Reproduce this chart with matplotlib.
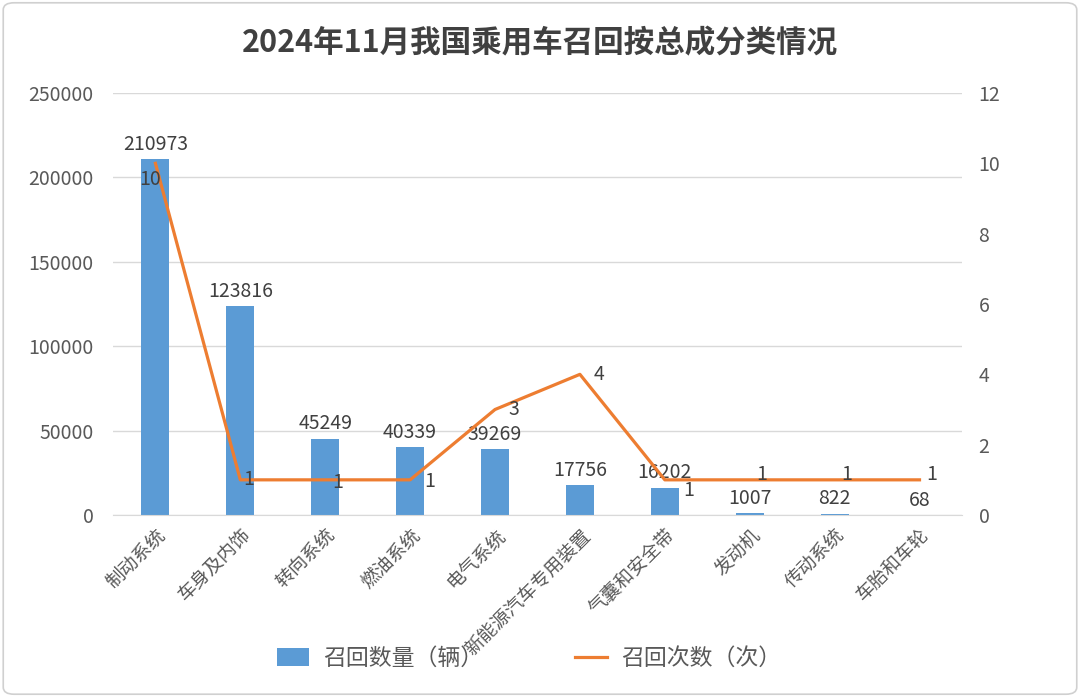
import matplotlib
matplotlib.use('Agg')
import matplotlib.pyplot as plt
from matplotlib.patches import FancyBboxPatch, Patch
from matplotlib.lines import Line2D
import numpy as np

plt.rcParams['font.family'] = ['Noto Sans CJK SC', 'DejaVu Sans']

# data
categories = ['制动系统', '车身及内饰', '转向系统', '燃油系统', '电气系统',
              '新能源汽车专用装置', '气囊和安全带', '发动机', '传动系统', '车胎和车轮']
recall_qty = [210973, 123816, 45249, 40339, 39269, 17756, 16202, 1007, 822, 68]
recall_cnt = [10, 1, 1, 1, 3, 4, 1, 1, 1, 1]
left_ticks = [0, 50000, 100000, 150000, 200000, 250000]
right_ticks = [0, 2, 4, 6, 8, 10, 12]

bar_color = '#5B9BD5'
line_color = '#ED7D31'
text_gray = '#595959'
label_gray = '#404040'

fig = plt.figure(figsize=(10.8, 6.97), dpi=100)
ax = fig.add_axes([0.1046, 0.2611, 0.7861, 0.6055])
ax2 = ax.twinx()

x = np.arange(len(categories))
ax.bar(x, recall_qty, width=0.33, color=bar_color, zorder=2)
ax.set_xlim(-0.5, len(categories) - 0.5)
ax.set_ylim(0, 250000)
ax.set_yticks(left_ticks)
ax.set_yticklabels([str(v) for v in left_ticks])
ax.grid(axis='y', color='#D9D9D9', linewidth=1, zorder=0)
ax.set_axisbelow(True)
for s in ['top', 'left', 'right']:
    ax.spines[s].set_visible(False)
ax.spines['bottom'].set_color('#D9D9D9')
ax.tick_params(axis='y', length=0, labelsize=14, labelcolor=text_gray, pad=14)
ax.tick_params(axis='x', length=0, pad=7)
ax.set_xticks(x)
ax.set_xticklabels(categories, rotation=45, ha='right', va='top',
                   rotation_mode='anchor', fontsize=13.5, color=text_gray)

# bar labels
for xi, v in zip(x, recall_qty):
    ax.annotate(str(v), (xi, v), xytext=(0, 3), textcoords='offset points',
                ha='center', va='bottom', fontsize=14, color=label_gray)

ax2.plot(x, recall_cnt, color=line_color, linewidth=2.3, zorder=3)
ax2.set_ylim(0, 12)
ax2.set_yticks(right_ticks)
for s in ['top', 'left', 'right', 'bottom']:
    ax2.spines[s].set_visible(False)
ax2.tick_params(axis='y', length=0, labelsize=14, labelcolor=text_gray, pad=12)

# line labels
line_offsets = [(-4, -12), (2, 0), (5, -2), (10, -1), (10, 0),
                (10, 0), (13, -8), (5, 4), (5, 4), (5, 4)]
for xi, v, off in zip(x, recall_cnt, line_offsets):
    ax2.annotate(str(v), (xi, v), xytext=off, textcoords='offset points',
                 ha='left' if off[0] > 0 else 'center', va='center',
                 fontsize=14, color=label_gray)

fig.text(0.5, 0.938, '2024年11月我国乘用车召回按总成分类情况', ha='center', va='center',
         fontsize=22, fontweight='bold', color='#404040')

handles = [Patch(facecolor=bar_color, edgecolor='none'),
           Line2D([0], [0], color=line_color, linewidth=2.3)]
fig.legend(handles, ['召回数量（辆）', '召回次数（次）'], loc='center',
           bbox_to_anchor=(0.49, 0.055), ncol=2, frameon=False, fontsize=16.5,
           labelcolor=text_gray, handlelength=1.4, handleheight=0.8,
           columnspacing=4.0, handletextpad=0.6)

border = FancyBboxPatch((0.003, 0.004), 0.994, 0.992, boxstyle='round,pad=0,rounding_size=0.01',
                        transform=fig.transFigure, fill=False, edgecolor='#D0D0D0', linewidth=1.2)
fig.patches.append(border)

fig.savefig('out.png', dpi=100)
